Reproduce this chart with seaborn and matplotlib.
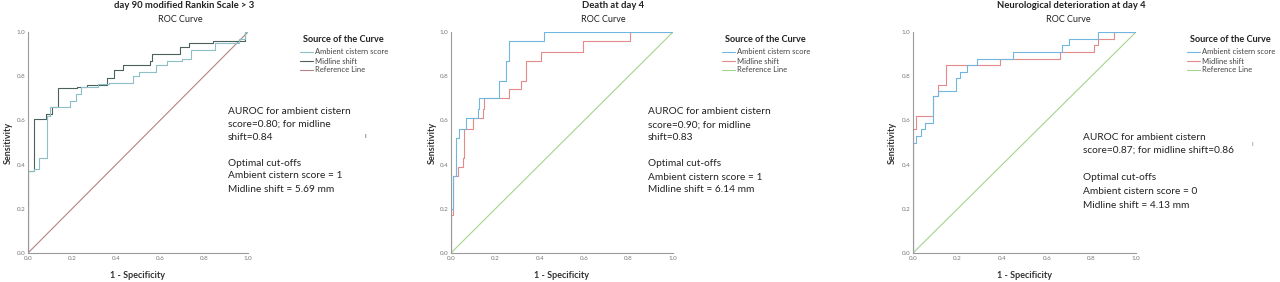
import matplotlib
matplotlib.use("Agg")
import matplotlib.pyplot as plt
import seaborn as sns
import pandas as pd
from matplotlib.lines import Line2D

sns.set_theme(style="white")
plt.rcParams['font.family'] = ['Lato', 'DejaVu Sans']

# ---------------- data ----------------
titles = ["day 90 modified Rankin Scale > 3", "Death at day 4", "Neurological deterioration at day 4"]
series_names = ["Ambient cistern score", "Midline shift", "Reference Line"]
tick_labels = ["0.0", "0.2", "0.4", "0.6", "0.8", "1.0"]

# Panel 1: day 90 mRS > 3
p1_ambient_fpr = [0.0, 0.0, 0.026, 0.05, 0.087, 0.10, 0.155, 0.19, 0.22, 0.24, 0.32, 0.37, 0.475, 0.505, 0.58, 0.63, 0.70, 0.74, 0.85, 0.96, 0.985, 1.0]
p1_ambient_tpr = [0.0, 0.37, 0.38, 0.43, 0.62, 0.66, 0.66, 0.69, 0.72, 0.75, 0.765, 0.77, 0.80, 0.82, 0.85, 0.87, 0.88, 0.92, 0.95, 0.97, 1.0, 1.0]
p1_midline_fpr = [0.0, 0.0, 0.026, 0.08, 0.11, 0.137, 0.224, 0.27, 0.36, 0.39, 0.43, 0.555, 0.565, 0.69, 0.73, 0.84, 0.985, 1.0]
p1_midline_tpr = [0.0, 0.37, 0.605, 0.63, 0.66, 0.745, 0.75, 0.76, 0.79, 0.83, 0.85, 0.87, 0.90, 0.93, 0.95, 0.96, 1.0, 1.0]

# Panel 2: Death at day 4
p2_ambient_fpr = [0.0, 0.0, 0.008, 0.023, 0.038, 0.068, 0.12, 0.128, 0.218, 0.248, 0.263, 0.42, 1.0]
p2_ambient_tpr = [0.0, 0.20, 0.35, 0.52, 0.56, 0.61, 0.65, 0.70, 0.78, 0.87, 0.96, 1.0, 1.0]
p2_midline_fpr = [0.0, 0.0, 0.008, 0.03, 0.053, 0.06, 0.098, 0.143, 0.15, 0.263, 0.316, 0.338, 0.406, 0.594, 0.805, 1.0]
p2_midline_tpr = [0.0, 0.17, 0.35, 0.39, 0.43, 0.56, 0.61, 0.65, 0.70, 0.74, 0.78, 0.87, 0.91, 0.96, 1.0, 1.0]

# Panel 3: Neurological deterioration at day 4
p3_ambient_fpr = [0.0, 0.0, 0.015, 0.037, 0.052, 0.09, 0.11, 0.195, 0.21, 0.24, 0.285, 0.45, 0.67, 0.70, 0.83, 1.0]
p3_ambient_tpr = [0.0, 0.50, 0.53, 0.56, 0.59, 0.71, 0.735, 0.79, 0.82, 0.85, 0.88, 0.91, 0.94, 0.97, 1.0, 1.0]
p3_midline_fpr = [0.0, 0.0, 0.015, 0.09, 0.11, 0.15, 0.39, 0.66, 0.81, 0.83, 0.90, 1.0]
p3_midline_tpr = [0.0, 0.56, 0.62, 0.71, 0.76, 0.85, 0.88, 0.91, 0.94, 0.97, 1.0, 1.0]

reference = [0.0, 1.0]

annotations = [
    "AUROC for ambient cistern\nscore=0.80; for midline\nshift=0.84\n\nOptimal cut-offs\nAmbient cistern score = 1\nMidline shift = 5.69 mm",
    "AUROC for ambient cistern\nscore=0.90; for midline\nshift=0.83\n\nOptimal cut-offs\nAmbient cistern score = 1\nMidline shift = 6.14 mm",
    "AUROC for ambient cistern\nscore=0.87; for midline shift=0.86\n\nOptimal cut-offs\nAmbient cistern score = 0\nMidline shift = 4.13 mm",
]

panels = [
    (p1_ambient_fpr, p1_ambient_tpr, p1_midline_fpr, p1_midline_tpr),
    (p2_ambient_fpr, p2_ambient_tpr, p2_midline_fpr, p2_midline_tpr),
    (p3_ambient_fpr, p3_ambient_tpr, p3_midline_fpr, p3_midline_tpr),
]

# ---------------- styling / layout ----------------
W, H = 1280, 282
colors = [
    ("#8dbfc6", "#4c605c", "#b58384"),
    ("#6fb7de", "#e58a8c", "#a3d48e"),
    ("#6fb7de", "#e58a8c", "#a3d48e"),
]
axes_px = [(28, 248), (451, 673), (913, 1136)]  # x0, x1 in pixels
y_top, y_bot = 32, 253
title_pos = [(184, 5), (613, 5), (1071, 5)]
roc_pos = [(180, 20), (603, 20), (1068, 20)]
ylab_x = [8, 432, 892]
legend_pos = [(303, 40), (725, 40), (1190, 40)]
annot_pos = [(228, 104, 13.0), (648, 105, 13.0), (1083, 130, 13.6)]

fig = plt.figure(figsize=(W / 100, H / 100), dpi=100)
fig.patch.set_facecolor("white")

def fx(px):
    return px / W

def fy(py):
    return 1 - py / H

for i, (afpr, atpr, mfpr, mtpr) in enumerate(panels):
    x0, x1 = axes_px[i]
    ax = fig.add_axes([fx(x0), fy(y_bot), (x1 - x0) / W, (y_bot - y_top) / H])
    ca, cm, cr = colors[i]
    df_a = pd.DataFrame({"fpr": afpr, "tpr": atpr})
    df_m = pd.DataFrame({"fpr": mfpr, "tpr": mtpr})
    df_r = pd.DataFrame({"fpr": reference, "tpr": reference})
    sns.lineplot(data=df_r, x="fpr", y="tpr", ax=ax, color=cr, lw=0.8, sort=False, estimator=None)
    sns.lineplot(data=df_m, x="fpr", y="tpr", ax=ax, color=cm, lw=0.8, sort=False, estimator=None,
                 drawstyle="steps-post")
    sns.lineplot(data=df_a, x="fpr", y="tpr", ax=ax, color=ca, lw=0.8, sort=False, estimator=None,
                 drawstyle="steps-post")
    ax.set_xlim(0, 1)
    ax.set_ylim(0, 1)
    ticks = [float(t) for t in tick_labels]
    ax.set_xticks(ticks)
    ax.set_yticks(ticks)
    ax.set_xticklabels(tick_labels, fontsize=4.5, color="#777777")
    ax.set_yticklabels(tick_labels, fontsize=4.5, color="#777777")
    ax.tick_params(axis="both", length=0, pad=2)
    ax.set_xlabel("")
    ax.set_ylabel("")
    for s in ["top", "right"]:
        ax.spines[s].set_visible(False)
    for s in ["left", "bottom"]:
        ax.spines[s].set_color("#9a9a9a")
        ax.spines[s].set_linewidth(0.8)
    ax.set_facecolor("white")

    cx = (x0 + x1) / 2
    fig.text(fx(cx), fy(276), "1 - Specificity", ha="center", va="center", fontsize=6.5,
             fontweight="bold", color="#333333")
    fig.text(fx(ylab_x[i]), fy((y_top + y_bot) / 2), "Sensitivity", ha="center", va="center",
             rotation=90, fontsize=6.5, fontweight="bold", color="#333333")
    tx, ty = title_pos[i]
    fig.text(fx(tx), fy(ty), titles[i], ha="center", va="center", fontsize=6.8,
             fontweight="bold", color="#222222")
    rx, ry = roc_pos[i]
    fig.text(fx(rx), fy(ry), "ROC Curve", ha="center", va="center", fontsize=6.5,
             color="#222222")

    lx, ly = legend_pos[i]
    fig.text(fx(lx), fy(ly), "Source of the Curve", ha="left", va="center", fontsize=6.6,
             fontweight="bold", color="#222222")
    for k, (name, c) in enumerate(zip(series_names, [ca, cm, cr])):
        yy = ly + 12 + k * 9
        fig.add_artist(Line2D([fx(lx - 3), fx(lx + 10)], [fy(yy), fy(yy)], color=c, lw=0.8,
                              transform=fig.transFigure))
        fig.text(fx(lx + 12), fy(yy), name, ha="left", va="center", fontsize=5.5,
                 color="#444444")

    ax_, ay_, lsp = annot_pos[i]
    for j, line in enumerate(annotations[i].split("\n")):
        if line:
            fig.text(fx(ax_), fy(ay_ + 7 + j * lsp), line, ha="left", va="center",
                     fontsize=7.3, color="#222222")

fig.text(fx(365), fy(135), "ı", ha="center", va="center", fontsize=5, color="#555555")
fig.text(fx(1252), fy(144), "ı", ha="center", va="center", fontsize=5, color="#888888")

fig.savefig("out.png", dpi=100, facecolor="white")
